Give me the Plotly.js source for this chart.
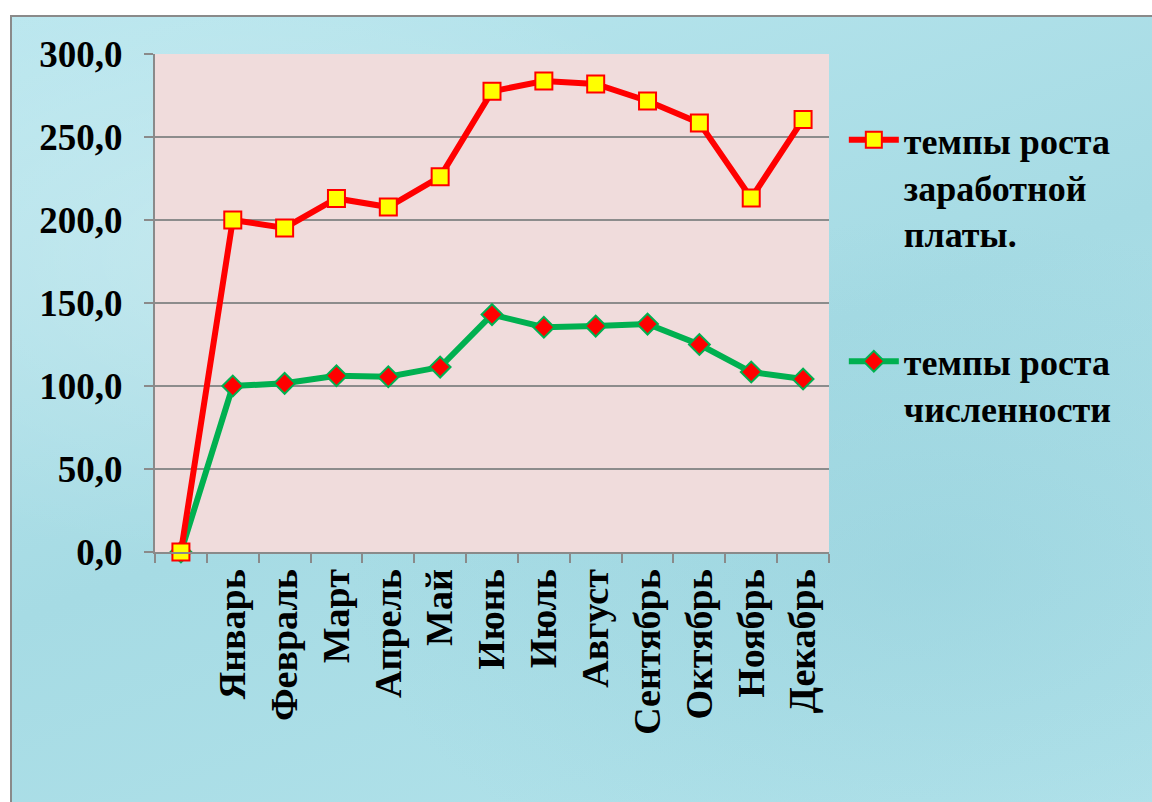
<!DOCTYPE html>
<html>
<head>
<meta charset="utf-8">
<script src="https://cdn.plot.ly/plotly-3.0.1.min.js"></script>
<style>
  html, body { margin: 0; padding: 0; width: 1152px; height: 802px; overflow: hidden; background: #ffffff; }
  #frame {
    position: absolute; left: 10px; top: 15px; width: 1150px; height: 795px;
    border: 2px solid #8a8a8a; box-sizing: border-box;
    background:
      radial-gradient(ellipse at 20% 30%, rgba(255,255,255,0.25), rgba(255,255,255,0) 40%),
      radial-gradient(ellipse at 80% 70%, rgba(120,190,205,0.25), rgba(120,190,205,0) 45%),
      linear-gradient(160deg, #b9e6ee 0%, #a6dbe4 50%, #b3e3eb 100%);
  }
  #chart { position: absolute; left: 0; top: 0; width: 1152px; height: 802px; }
</style>
</head>
<body>
<div id="frame"></div>
<div id="chart"></div>
<script>
const categories = [" ", "Январь", "Февраль", "Март", "Апрель", "Май", "Июнь", "Июль", "Август", "Сентябрь", "Октябрь", "Ноябрь", "Декабрь"];
const wageGrowth = [0, 200.0, 195.2, 213.0, 207.8, 226.0, 277.5, 283.7, 282.0, 271.7, 258.5, 213.2, 260.6];
const staffGrowth = [0, 100.0, 101.6, 106.2, 105.6, 111.4, 143.0, 135.4, 136.1, 137.3, 125.0, 108.4, 104.2];
const seriesNames = ["темпы роста<br>заработной<br>платы.", "темпы роста<br>численности"];

const font = "'Liberation Serif', 'Times New Roman', serif";

const traces = [
  {
    x: categories, y: staffGrowth, name: seriesNames[1], type: "scatter", mode: "lines+markers",
    line: { color: "#00b050", width: 6 },
    marker: { symbol: "diamond", size: 16, color: "#ff0000", line: { color: "#00b050", width: 2 } },
    cliponaxis: false, legend: "legend2"
  },
  {
    x: categories, y: wageGrowth, name: seriesNames[0], type: "scatter", mode: "lines+markers",
    line: { color: "#ff0000", width: 6 },
    marker: { symbol: "square", size: 17, color: "#ffff00", line: { color: "#ff0000", width: 2 } },
    cliponaxis: false, legend: "legend"
  }
];

const legendFont = { family: font, size: 36, color: "#000000", weight: "bold" };

const layout = {
  width: 1152, height: 802,
  margin: { l: 155, r: 323, t: 54, b: 250 },
  paper_bgcolor: "rgba(0,0,0,0)",
  plot_bgcolor: "#f0dcdc",
  font: { family: font, color: "#000000" },
  showlegend: true,
  separators: ",.",
  xaxis: {
    type: "category",
    categoryorder: "array", categoryarray: categories,
    tickson: "boundaries",
    ticks: "outside", ticklen: 9, tickcolor: "#8a8a8a", tickwidth: 2,
    showline: true, linecolor: "#8a8a8a", linewidth: 2,
    showgrid: false,
    tickangle: -90,
    tickfont: { family: font, size: 38, color: "#000000", weight: "bold" },
    range: [-0.5, 12.5],
    fixedrange: true
  },
  yaxis: {
    range: [0, 300],
    dtick: 50, tick0: 0,
    tickformat: ".1f",
    ticks: "outside", ticklen: 9, tickcolor: "#8a8a8a", tickwidth: 2,
    ticklabelstandoff: 14,
    showline: true, linecolor: "#8a8a8a", linewidth: 2,
    showgrid: true, gridcolor: "#8c8c8c", gridwidth: 2,
    zeroline: false,
    tickfont: { family: font, size: 37, color: "#000000", weight: "bold" },
    fixedrange: true
  },
  legend: {
    x: 1.022, xanchor: "left", y: 0.888, yanchor: "top", valign: "top",
    font: legendFont, bgcolor: "rgba(0,0,0,0)",
    itemwidth: 50
  },
  legend2: {
    x: 1.022, xanchor: "left", y: 0.443, yanchor: "top", valign: "top",
    font: legendFont, bgcolor: "rgba(0,0,0,0)",
    itemwidth: 50
  }
};

Plotly.newPlot("chart", traces, layout, { displayModeBar: false, staticPlot: true });
</script>
</body>
</html>
